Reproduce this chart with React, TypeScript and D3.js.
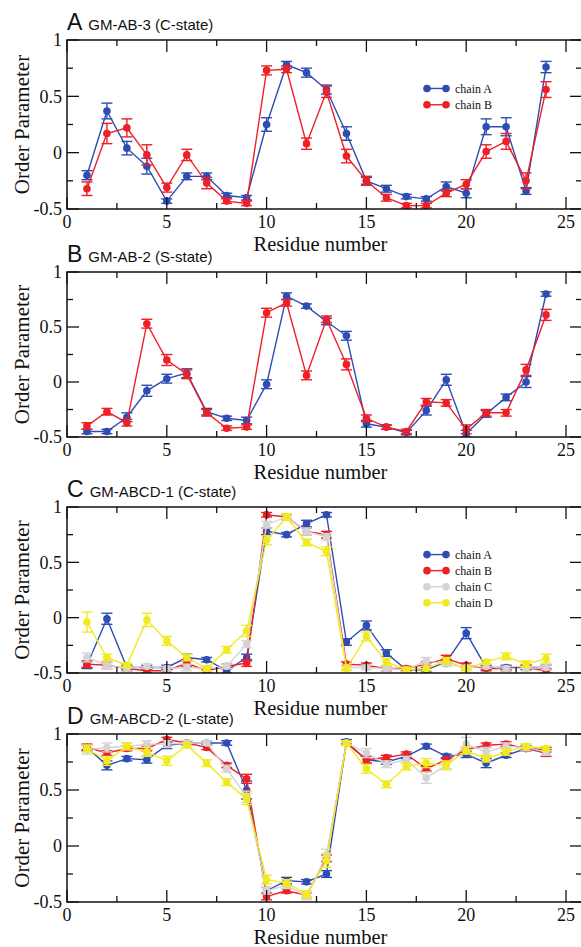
import React from "react";
import * as d3 from "d3";

// Residue positions shared by every panel
const residues = [1, 2, 3, 4, 5, 6, 7, 8, 9, 10, 11, 12, 13, 14, 15, 16, 17, 18, 19, 20, 21, 22, 23, 24];

const xMajorTicks = [0, 5, 10, 15, 20, 25];
const xMinorTicks = [2.5, 7.5, 12.5, 17.5, 22.5];
const yMajorTicks = [-0.5, 0, 0.5, 1];
const yMinorTicks = [-0.25, 0.25, 0.75];

// Panel A: GM-AB-3 (C-state)
const aChainA = [-0.2, 0.37, 0.04, -0.12, -0.43, -0.21, -0.21, -0.38, -0.4, 0.25, 0.78, 0.71, 0.56, 0.17, -0.25, -0.32, -0.39, -0.41, -0.3, -0.36, 0.23, 0.23, -0.34, 0.76];
const aChainAErr = [0.04, 0.07, 0.06, 0.07, 0.02, 0.03, 0.03, 0.02, 0.02, 0.06, 0.03, 0.04, 0.04, 0.06, 0.03, 0.03, 0.02, 0.02, 0.04, 0.04, 0.07, 0.08, 0.03, 0.05];
const aChainB = [-0.32, 0.17, 0.22, -0.02, -0.31, -0.02, -0.27, -0.43, -0.45, 0.73, 0.74, 0.08, 0.54, -0.03, -0.25, -0.4, -0.47, -0.47, -0.36, -0.28, 0.01, 0.1, -0.25, 0.56];
const aChainBErr = [0.06, 0.09, 0.08, 0.09, 0.04, 0.05, 0.05, 0.02, 0.02, 0.04, 0.03, 0.05, 0.05, 0.06, 0.04, 0.03, 0.02, 0.02, 0.03, 0.04, 0.06, 0.07, 0.07, 0.07];

// Panel B: GM-AB-2 (S-state)
const bChainA = [-0.45, -0.45, -0.32, -0.08, 0.03, 0.08, -0.27, -0.33, -0.35, -0.02, 0.78, 0.69, 0.55, 0.42, -0.38, -0.41, -0.46, -0.26, 0.02, -0.47, -0.29, -0.14, 0.0, 0.8];
const bChainAErr = [0.02, 0.02, 0.04, 0.05, 0.04, 0.04, 0.03, 0.02, 0.03, 0.04, 0.03, 0.02, 0.03, 0.04, 0.03, 0.02, 0.02, 0.04, 0.05, 0.03, 0.03, 0.03, 0.05, 0.02];
const bChainB = [-0.4, -0.27, -0.37, 0.53, 0.2, 0.07, -0.28, -0.42, -0.41, 0.63, 0.72, 0.06, 0.57, 0.16, -0.33, -0.41, -0.45, -0.18, -0.19, -0.43, -0.28, -0.28, 0.11, 0.61];
const bChainBErr = [0.03, 0.03, 0.03, 0.04, 0.05, 0.04, 0.03, 0.02, 0.02, 0.04, 0.03, 0.04, 0.03, 0.05, 0.03, 0.02, 0.02, 0.03, 0.03, 0.04, 0.03, 0.03, 0.05, 0.05];

// Panel C: GM-ABCD-1 (C-state)
const cChainA = [-0.43, -0.01, -0.45, -0.45, -0.45, -0.36, -0.38, -0.48, -0.36, 0.78, 0.75, 0.85, 0.93, -0.22, -0.07, -0.32, -0.47, -0.47, -0.4, -0.14, -0.45, -0.45, -0.45, -0.45];
const cChainAErr = [0.03, 0.05, 0.02, 0.02, 0.02, 0.03, 0.02, 0.02, 0.03, 0.03, 0.02, 0.03, 0.02, 0.03, 0.04, 0.03, 0.02, 0.02, 0.02, 0.05, 0.02, 0.02, 0.02, 0.02];
const cChainB = [-0.42, -0.43, -0.46, -0.48, -0.48, -0.41, -0.48, -0.44, -0.41, 0.93, 0.91, 0.78, 0.75, -0.42, -0.43, -0.46, -0.46, -0.42, -0.37, -0.43, -0.46, -0.46, -0.45, -0.48];
const cChainBErr = [0.03, 0.03, 0.02, 0.02, 0.02, 0.03, 0.02, 0.02, 0.03, 0.02, 0.02, 0.03, 0.03, 0.02, 0.02, 0.02, 0.02, 0.02, 0.03, 0.02, 0.02, 0.02, 0.02, 0.02];
const cChainC = [-0.36, -0.43, -0.46, -0.44, -0.46, -0.45, -0.46, -0.44, -0.24, 0.84, 0.91, 0.78, 0.73, -0.45, -0.45, -0.46, -0.47, -0.39, -0.42, -0.45, -0.44, -0.46, -0.46, -0.45];
const cChainCErr = [0.04, 0.03, 0.02, 0.02, 0.02, 0.03, 0.02, 0.02, 0.03, 0.03, 0.02, 0.03, 0.03, 0.02, 0.02, 0.02, 0.02, 0.03, 0.02, 0.02, 0.02, 0.02, 0.02, 0.02];
const cChainD = [-0.04, -0.36, -0.43, -0.02, -0.21, -0.36, -0.46, -0.29, -0.12, 0.7, 0.91, 0.68, 0.6, -0.46, -0.17, -0.4, -0.47, -0.46, -0.39, -0.46, -0.4, -0.35, -0.42, -0.37];
const cChainDErr = [0.09, 0.03, 0.02, 0.06, 0.04, 0.03, 0.02, 0.03, 0.05, 0.04, 0.03, 0.03, 0.04, 0.02, 0.04, 0.03, 0.02, 0.02, 0.03, 0.02, 0.02, 0.03, 0.03, 0.04];

// Panel D: GM-ABCD-2 (L-state)
const dChainA = [0.88, 0.72, 0.78, 0.77, 0.9, 0.92, 0.92, 0.92, 0.5, -0.4, -0.31, -0.32, -0.25, 0.93, 0.77, 0.75, 0.8, 0.89, 0.8, 0.82, 0.74, 0.81, 0.87, 0.86];
const dChainAErr = [0.02, 0.04, 0.02, 0.03, 0.03, 0.02, 0.02, 0.02, 0.08, 0.03, 0.03, 0.02, 0.03, 0.02, 0.03, 0.02, 0.02, 0.02, 0.02, 0.03, 0.04, 0.02, 0.02, 0.02];
const dChainB = [0.88, 0.83, 0.87, 0.87, 0.95, 0.92, 0.88, 0.72, 0.6, -0.45, -0.4, -0.44, -0.11, 0.92, 0.77, 0.79, 0.82, 0.69, 0.77, 0.86, 0.9, 0.91, 0.87, 0.83];
const dChainBErr = [0.03, 0.02, 0.02, 0.02, 0.02, 0.02, 0.02, 0.02, 0.04, 0.03, 0.02, 0.02, 0.03, 0.02, 0.03, 0.02, 0.02, 0.02, 0.02, 0.02, 0.02, 0.02, 0.02, 0.03];
const dChainC = [0.86, 0.88, 0.89, 0.91, 0.91, 0.92, 0.92, 0.69, 0.44, -0.4, -0.35, -0.45, -0.08, 0.92, 0.83, 0.73, 0.77, 0.61, 0.72, 0.91, 0.84, 0.89, 0.88, 0.84];
const dChainCErr = [0.04, 0.04, 0.03, 0.03, 0.03, 0.02, 0.02, 0.03, 0.05, 0.03, 0.03, 0.03, 0.05, 0.02, 0.04, 0.03, 0.03, 0.05, 0.03, 0.06, 0.04, 0.03, 0.03, 0.03];
const dChainD = [0.87, 0.76, 0.89, 0.84, 0.76, 0.9, 0.74, 0.57, 0.42, -0.3, -0.33, -0.43, -0.13, 0.92, 0.69, 0.55, 0.71, 0.74, 0.72, 0.85, 0.78, 0.84, 0.89, 0.87];
const dChainDErr = [0.03, 0.04, 0.03, 0.04, 0.04, 0.02, 0.03, 0.03, 0.05, 0.04, 0.03, 0.03, 0.06, 0.02, 0.04, 0.03, 0.03, 0.04, 0.04, 0.03, 0.03, 0.03, 0.02, 0.02];

const chainNames = ["chain A", "chain B", "chain C", "chain D"];
const chainColors = ["#2d4db3", "#ee1f26", "#d4d4d4", "#f2ea20"];

type Series = { name: string; color: string; values: number[]; errors: number[] };

const SERIF = "Liberation Serif, DejaVu Serif, Times New Roman, serif";
const SANS = "Liberation Sans, Arial, sans-serif";

const PLOT_LEFT = 67;
const X25 = 566;
const FRAME_RIGHT = 582;

function Panel({
  id,
  top,
  bottom,
  letter,
  title,
  series,
  legendX,
}: {
  id: string;
  top: number;
  bottom: number;
  letter: string;
  title: string;
  series: Series[];
  legendX: number;
}) {
  const x = d3.scaleLinear().domain([0, 25]).range([PLOT_LEFT, X25]);
  const y = d3.scaleLinear().domain([-0.5, 1]).range([bottom, top]);
  const line = d3
    .line<number>()
    .x((_, i) => x(residues[i]))
    .y((v) => y(v));
  const majorLen = 12;
  const minorLen = 6;
  const cap = 5.5;
  const legendRows = series.map((s, i) => ({ s, yv: 0.57 - i * 0.145 }));

  return (
    <g>
      <defs>
        <clipPath id={`clip-${id}`}>
          <rect x={PLOT_LEFT} y={top} width={FRAME_RIGHT - PLOT_LEFT} height={bottom - top} />
        </clipPath>
      </defs>

      {/* title */}
      <text x={PLOT_LEFT} y={top - 10} fontFamily={SANS} fill="#111">
        <tspan fontSize={23}>{letter}</tspan>
        <tspan fontSize={15} dx={6}>{title}</tspan>
      </text>

      {/* series */}
      <g clipPath={`url(#clip-${id})`}>
        {series.map((s) => (
          <g key={s.name}>
            <path d={line(s.values) ?? ""} fill="none" stroke={s.color} strokeWidth={1.4} />
            {s.values.map((v, i) => {
              const cx = x(residues[i]);
              const y0 = y(v - s.errors[i]);
              const y1 = y(v + s.errors[i]);
              return (
                <g key={i} stroke={s.color} strokeWidth={1.4}>
                  <line x1={cx} x2={cx} y1={y0} y2={y1} />
                  <line x1={cx - cap} x2={cx + cap} y1={y0} y2={y0} />
                  <line x1={cx - cap} x2={cx + cap} y1={y1} y2={y1} />
                  <circle cx={cx} cy={y(v)} r={3.8} fill={s.color} stroke="none" />
                </g>
              );
            })}
          </g>
        ))}
      </g>

      {/* legend */}
      {legendX > 0 &&
        legendRows.map(({ s, yv }) => {
          const ly = y(yv);
          return (
            <g key={s.name}>
              <line x1={legendX} x2={legendX + 19} y1={ly} y2={ly} stroke={s.color} strokeWidth={1.4} />
              <circle cx={legendX} cy={ly} r={3.8} fill={s.color} />
              <circle cx={legendX + 19} cy={ly} r={3.8} fill={s.color} />
              <text x={legendX + 28} y={ly} dy="0.35em" fontFamily={SERIF} fontSize={12} fill="#111">
                {s.name}
              </text>
            </g>
          );
        })}

      {/* frame */}
      <rect
        x={PLOT_LEFT}
        y={top}
        width={FRAME_RIGHT - PLOT_LEFT}
        height={bottom - top}
        fill="none"
        stroke="#111"
        strokeWidth={1.5}
      />

      {/* x ticks, bottom and top */}
      {xMajorTicks.map((t) => (
        <g key={`xm${t}`} stroke="#111" strokeWidth={1.3}>
          <line x1={x(t)} x2={x(t)} y1={bottom} y2={bottom - majorLen} />
          <line x1={x(t)} x2={x(t)} y1={top} y2={top + majorLen} />
        </g>
      ))}
      {xMinorTicks.map((t) => (
        <g key={`xn${t}`} stroke="#111" strokeWidth={1.3}>
          <line x1={x(t)} x2={x(t)} y1={bottom} y2={bottom - minorLen} />
          <line x1={x(t)} x2={x(t)} y1={top} y2={top + minorLen} />
        </g>
      ))}
      {xMajorTicks.map((t) => (
        <text key={`xl${t}`} x={x(t)} y={bottom + 19} textAnchor="middle" fontFamily={SERIF} fontSize={18} fill="#111">
          {t}
        </text>
      ))}

      {/* y ticks, left and right */}
      {yMajorTicks.map((t) => (
        <g key={`ym${t}`} stroke="#111" strokeWidth={1.3}>
          <line x1={PLOT_LEFT} x2={PLOT_LEFT + majorLen} y1={y(t)} y2={y(t)} />
          <line x1={FRAME_RIGHT} x2={FRAME_RIGHT - majorLen} y1={y(t)} y2={y(t)} />
        </g>
      ))}
      {yMinorTicks.map((t) => (
        <g key={`yn${t}`} stroke="#111" strokeWidth={1.3}>
          <line x1={PLOT_LEFT} x2={PLOT_LEFT + minorLen} y1={y(t)} y2={y(t)} />
          <line x1={FRAME_RIGHT} x2={FRAME_RIGHT - minorLen} y1={y(t)} y2={y(t)} />
        </g>
      ))}
      {yMajorTicks.map((t) => (
        <text
          key={`yl${t}`}
          x={PLOT_LEFT - 5}
          y={y(t)}
          dy="0.35em"
          textAnchor="end"
          fontFamily={SERIF}
          fontSize={18}
          fill="#111"
        >
          {t}
        </text>
      ))}

      {/* axis titles */}
      <text
        x={(x(0) + x(25)) / 2 + 4}
        y={bottom + 42}
        textAnchor="middle"
        fontFamily={SERIF}
        fontSize={20.5}
        fill="#111"
      >
        Residue number
      </text>
      <text
        transform={`translate(${22},${(top + bottom) / 2}) rotate(-90)`}
        textAnchor="middle"
        dy="0.35em"
        fontFamily={SERIF}
        fontSize={21}
        fill="#111"
      >
        Order Parameter
      </text>
    </g>
  );
}

function makeSeries(values: number[][], errors: number[][]): Series[] {
  return values.map((v, i) => ({ name: chainNames[i], color: chainColors[i], values: v, errors: errors[i] }));
}

export default function App() {
  const panelA = makeSeries([aChainA, aChainB], [aChainAErr, aChainBErr]);
  const panelB = makeSeries([bChainA, bChainB], [bChainAErr, bChainBErr]);
  const panelC = makeSeries(
    [cChainA, cChainB, cChainC, cChainD],
    [cChainAErr, cChainBErr, cChainCErr, cChainDErr]
  );
  const panelD = makeSeries(
    [dChainA, dChainB, dChainC, dChainD],
    [dChainAErr, dChainBErr, dChainCErr, dChainDErr]
  );

  return (
    <svg
      width={581}
      height={947}
      style={{ position: "absolute", left: 0, top: 0, background: "#fff" }}
    >
      <rect width={581} height={947} fill="#fff" />
      <Panel id="a" top={40} bottom={209} letter="A" title="GM-AB-3 (C-state)" series={panelA} legendX={427} />
      <Panel id="b" top={272} bottom={437} letter="B" title="GM-AB-2 (S-state)" series={panelB} legendX={0} />
      <Panel id="c" top={507} bottom={673} letter="C" title="GM-ABCD-1 (C-state)" series={panelC} legendX={427} />
      <Panel id="d" top={734} bottom={902} letter="D" title="GM-ABCD-2 (L-state)" series={panelD} legendX={0} />
    </svg>
  );
}
